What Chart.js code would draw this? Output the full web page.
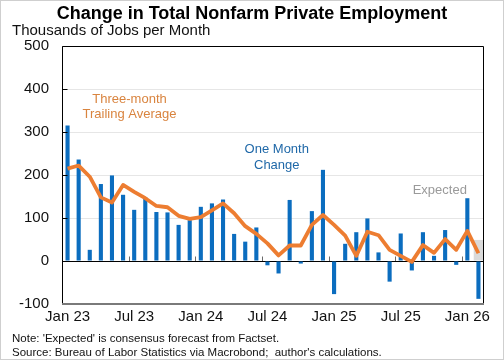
<!DOCTYPE html>
<html><head><meta charset="utf-8">
<script src="https://cdn.jsdelivr.net/npm/chart.js@4.4.1/dist/chart.umd.min.js"></script>
<style>
html,body{margin:0;padding:0;background:#fff;}
canvas{display:block;}
</style></head><body>
<canvas id="c" width="504" height="360"></canvas>
<script>
const categories = [
 'Jan 23','Feb 23','Mar 23','Apr 23','May 23','Jun 23','Jul 23','Aug 23','Sep 23','Oct 23','Nov 23','Dec 23',
 'Jan 24','Feb 24','Mar 24','Apr 24','May 24','Jun 24','Jul 24','Aug 24','Sep 24','Oct 24','Nov 24','Dec 24',
 'Jan 25','Feb 25','Mar 25','Apr 25','May 25','Jun 25','Jul 25','Aug 25','Sep 25','Oct 25','Nov 25','Dec 25',
 'Jan 26','Feb 26'];
const oneMonth = [315,236,26,179,199,154,119,148,114,113,84,95,
 126,134,143,63,45,78,-10,-29,142,-6,116,212,
 -77,40,67,99,20,-48,64,-22,67,12,72,-9,
 146,-88];
const threeMonth = [215,222,196,148,136,177,161,146,128,125,105,98,
 102,118,134,111,81,63,41,13,36,36,84,107,
 84,59,12,68,60,26,12,-2,37,19,51,26,
 70,18];
const expected = [null,null,null,null,null,null,null,null,null,null,null,null,
 null,null,null,null,null,null,null,null,null,null,null,null,
 null,null,null,null,null,null,null,null,null,null,null,null,
 null,49];
const yTicks = [-100,0,100,200,300,400,500];
const xTickLabels = ['Jan 23','Jul 23','Jan 24','Jul 24','Jan 25','Jul 25','Jan 26'];

const FONT = '"Liberation Sans", Arial, sans-serif';

const decor = {
  id: 'decor',
  beforeDatasetsDraw(chart) {
    const {ctx, scales: {x, y}} = chart;
    const y0 = Math.round(y.getPixelForValue(0));
    ctx.save();
    ctx.strokeStyle = '#6a6a6a';
    ctx.lineWidth = 1;
    categories.forEach((c, i) => {
      if (i > 0 && xTickLabels.includes(c)) {
        const px = Math.round((x.getPixelForValue(i - 1) + x.getPixelForValue(i)) / 2) + 0.5;
        ctx.beginPath(); ctx.moveTo(px, y0); ctx.lineTo(px, y0 - 4.5); ctx.stroke();
      }
    });
    ctx.restore();
  },
  afterDatasetsDraw(chart) {
    const {ctx, chartArea: a, scales: {x, y}} = chart;
    ctx.save();
    const L = Math.round(a.left) + 0.5, R = Math.round(a.right) - 0.5, T = Math.round(a.top) + 0.5, B = Math.round(a.bottom);
    ctx.strokeStyle = '#000'; ctx.lineWidth = 1;
    ctx.beginPath(); ctx.moveTo(L, B); ctx.lineTo(L, T); ctx.lineTo(R, T); ctx.lineTo(R, B); ctx.stroke();
    ctx.strokeStyle = '#7a7a7a'; ctx.lineWidth = 2;
    ctx.beginPath(); ctx.moveTo(L - 0.5, B); ctx.lineTo(R + 0.5, B); ctx.stroke();
    ctx.strokeStyle = '#000'; ctx.lineWidth = 1;
    yTicks.forEach(v => {
      if (v === -100) return;
      const py = Math.round(y.getPixelForValue(v)) + 0.5;
      ctx.beginPath(); ctx.moveTo(L, py); ctx.lineTo(L + 5, py); ctx.stroke();
    });
    ctx.textAlign = 'center'; ctx.textBaseline = 'middle';
    ctx.font = '13px ' + FONT;
    ctx.fillStyle = '#D9843F';
    ctx.fillText('Three-month', x.getPixelForValue(5.58), y.getPixelForValue(376));
    ctx.fillText('Trailing Average', x.getPixelForValue(5.58), y.getPixelForValue(341));
    ctx.fillStyle = '#1F68A8';
    ctx.fillText('One Month', x.getPixelForValue(18.84), y.getPixelForValue(260));
    ctx.fillText('Change', x.getPixelForValue(18.84), y.getPixelForValue(223));
    ctx.fillStyle = '#9a9a9a';
    ctx.fillText('Expected', x.getPixelForValue(33.52), y.getPixelForValue(163));
    ctx.restore();
  },
  afterDraw(chart) {
    const {ctx} = chart;
    ctx.save();
    ctx.fillStyle = '#000';
    ctx.textBaseline = 'alphabetic';
    ctx.textAlign = 'center';
    ctx.font = 'bold 18px ' + FONT;
    ctx.fillText('Change in Total Nonfarm Private Employment', 252, 18.5);
    ctx.textAlign = 'left';
    ctx.font = '15px ' + FONT;
    ctx.fillStyle = '#111';
    ctx.fillText('Thousands of Jobs per Month', 12, 35);
    ctx.font = '11.5px ' + FONT;
    ctx.fillText("Note: 'Expected' is consensus forecast from Factset.", 12, 342);
    ctx.fillText("Source: Bureau of Labor Statistics via Macrobond;  author's calculations.", 12, 355.5);
    ctx.strokeStyle = '#cfcfcf'; ctx.lineWidth = 1;
    ctx.strokeRect(0.5, 0.5, 503, 359);
    ctx.restore();
  }
};

new Chart(document.getElementById('c'), {
  type: 'bar',
  data: {
    labels: categories,
    datasets: [
      {type: 'line', label: 'Three-month Trailing Average', data: threeMonth, borderColor: '#ED7D31',
       borderWidth: 3.8, pointRadius: 0, tension: 0, fill: false, order: 0, borderJoinStyle: 'round'},
      {label: 'One Month Change', data: oneMonth, backgroundColor: '#0B6DBF', grouped: false,
       barPercentage: 0.37, categoryPercentage: 1, order: 1},
      {label: 'Expected', data: expected, backgroundColor: '#dadada', grouped: false,
       barPercentage: 0.85, categoryPercentage: 1, order: 2}
    ]
  },
  options: {
    responsive: false,
    devicePixelRatio: 1,
    animation: false,
    layout: {padding: {left: 0, right: 20, top: 46, bottom: 0}},
    plugins: {legend: {display: false}, tooltip: {enabled: false}, title: {display: false}},
    scales: {
      x: {
        grid: {display: false, drawTicks: false},
        border: {display: false},
        ticks: {
          autoSkip: false, maxRotation: 0, minRotation: 0, padding: 4,
          color: '#111', font: {family: FONT, size: 15},
          callback: function(v) { const l = this.getLabelForValue(v); return xTickLabels.includes(l) ? l : ''; }
        },
        afterFit: s => { s.height = 56; }
      },
      y: {
        min: -100, max: 500,
        afterBuildTicks: s => { s.ticks = yTicks.map(v => ({value: v})); },
        grid: {
          drawTicks: false,
          color: c => c.tick.value === 0 ? '#000' : ((c.tick.value === 500 || c.tick.value === -100) ? 'rgba(0,0,0,0)' : '#e6e6e6'),
          lineWidth: 1
        },
        border: {display: false},
        ticks: {padding: 13, color: '#111', font: {family: FONT, size: 15}},
        afterFit: s => { s.width = 62; }
      }
    }
  },
  plugins: [decor]
});
</script>
</body></html>
